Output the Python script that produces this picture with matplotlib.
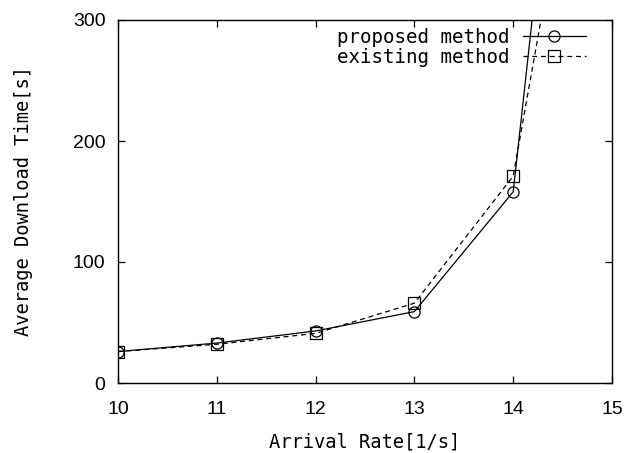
import matplotlib.pyplot as plt

# datos
tasa = [10, 11, 12, 13, 14, 15]
propuesto = [26, 33, 43, 59, 158, 900]
existente = [26, 32, 41, 66, 171, 630]

W, H = 642, 453
fig = plt.figure(figsize=(W / 100, H / 100), dpi=100)
# ejes: izquierda 118px, derecha 612px, arriba 20px, abajo 383px
ax = fig.add_axes([118 / W, (H - 383) / H, (612 - 118) / W, (383 - 20) / H])

ax.plot(tasa, propuesto, color='black', linewidth=0.9, marker='o',
        markersize=8, markerfacecolor='none', markeredgewidth=0.9,
        label='proposed method')
ax.plot(tasa, existente, color='black', linewidth=0.9, linestyle=(0, (4, 3)),
        marker='s', markersize=8.5, markerfacecolor='none', markeredgewidth=0.9,
        label='existing method')

ax.set_xlim(10, 15)
ax.set_ylim(0, 300)
ax.set_xticks([10, 11, 12, 13, 14, 15])
ax.set_yticks([0, 100, 200, 300])
ax.tick_params(direction='in', top=True, right=True, length=5, width=0.9,
               labelsize=14)
ax.tick_params(axis='x', pad=13)
ax.tick_params(axis='y', pad=9)
for lab in ax.get_xticklabels() + ax.get_yticklabels():
    lab.set_family('Liberation Sans')
for s in ax.spines.values():
    s.set_linewidth(1.0)

ax.set_xlabel('Arrival Rate[1/s]', family='DejaVu Sans Mono', fontsize=13.5, va='center')
ax.set_ylabel('Average Download Time[s]', family='DejaVu Sans Mono', fontsize=13.5, va='center')
ax.xaxis.set_label_coords(0.5, (383 - 442) / 363)
ax.yaxis.set_label_coords((24 - 118) / 494, 0.5)

ax.legend(loc='upper right', bbox_to_anchor=(586 / W, (H - 28) / H),
          bbox_transform=fig.transFigure, frameon=False, markerfirst=False,
          handlelength=3.3, handletextpad=0.7, borderaxespad=0, borderpad=0,
          prop={'family': 'DejaVu Sans Mono', 'size': 13.8}, labelspacing=0.05)

plt.savefig('out.png', dpi=100)
